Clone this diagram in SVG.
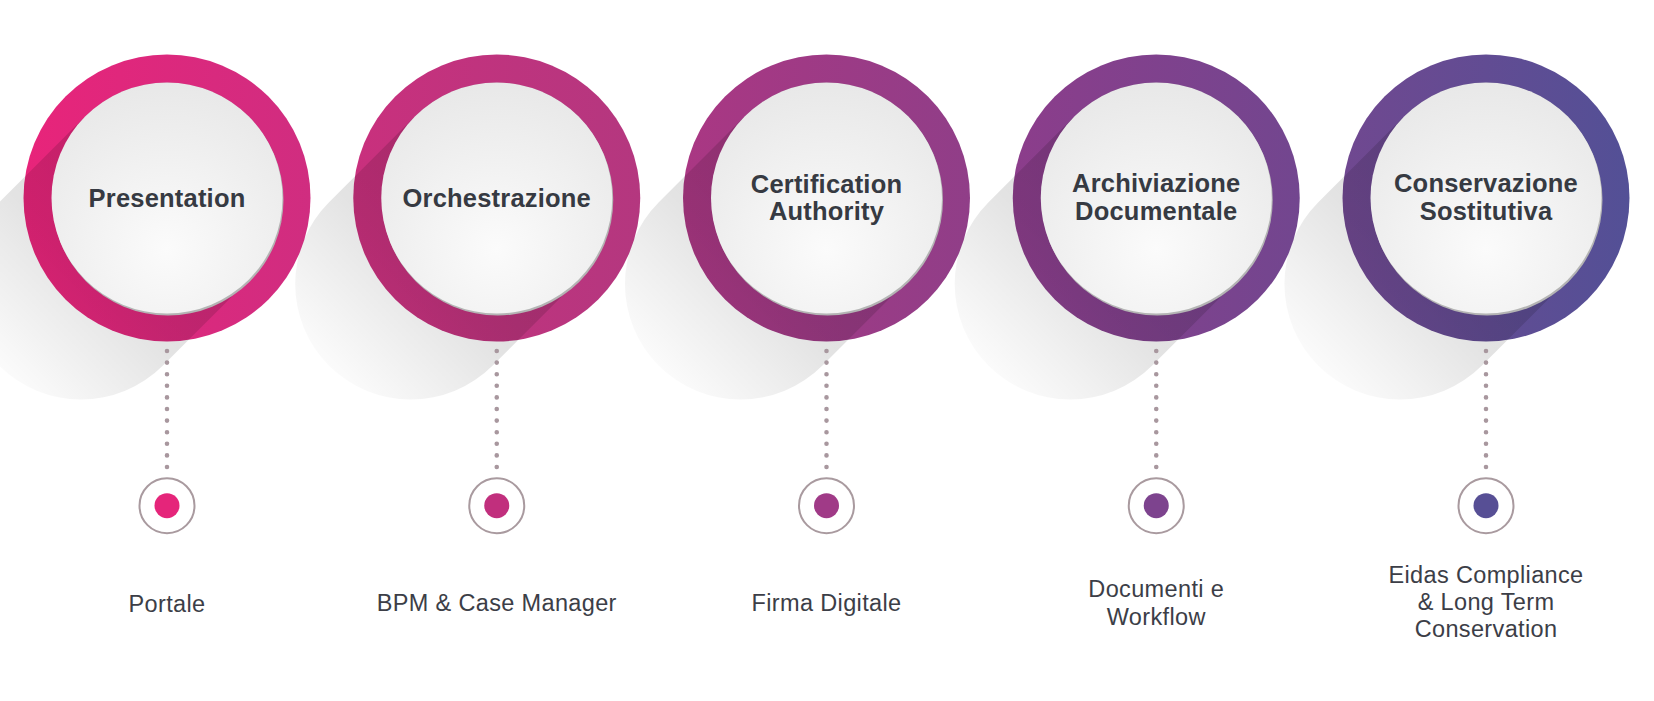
<svg xmlns="http://www.w3.org/2000/svg" width="1654" height="701" viewBox="0 0 1654 701">
<defs>
<style>
.title{font-family:"Liberation Sans",Arial,sans-serif;font-weight:bold;font-size:25.5px;fill:#363a42;text-anchor:middle;letter-spacing:0.2px}
.label{font-family:"Liberation Sans",Arial,sans-serif;font-size:23.5px;fill:#3c3e47;text-anchor:middle;letter-spacing:0.35px}
.shadow{fill:url(#shadowGrad)}
.inner{fill:url(#innerGrad)}
.innerEdge{fill:#b4b4b4}
.marker{fill:#ffffff;stroke:#a99a9f;stroke-width:2}
.dots{stroke:#a8979e;stroke-width:4.6;stroke-linecap:round;stroke-dasharray:0 11.6;fill:none}
</style>
<linearGradient id="shadowGrad" x1="1" y1="0" x2="0" y2="1">
<stop offset="0.36" stop-color="#000" stop-opacity="0.15"/>
<stop offset="0.6" stop-color="#000" stop-opacity="0.11"/>
<stop offset="0.9" stop-color="#000" stop-opacity="0.015"/>
</linearGradient>
<radialGradient id="innerGrad" cx="0.5" cy="0.72" r="0.8">
<stop offset="0" stop-color="#fbfbfb"/>
<stop offset="1" stop-color="#e6e6e6"/>
</radialGradient>
<linearGradient id="ring1" x1="0" y1="0" x2="1" y2="0"><stop offset="0" stop-color="#e8247a"/><stop offset="1" stop-color="#d02d80"/></linearGradient>
<linearGradient id="ring2" x1="0" y1="0" x2="1" y2="0"><stop offset="0" stop-color="#c9307d"/><stop offset="1" stop-color="#b4377f"/></linearGradient>
<linearGradient id="ring3" x1="0" y1="0" x2="1" y2="0"><stop offset="0" stop-color="#aa3783"/><stop offset="1" stop-color="#903e88"/></linearGradient>
<linearGradient id="ring4" x1="0" y1="0" x2="1" y2="0"><stop offset="0" stop-color="#8c3d8b"/><stop offset="1" stop-color="#72468f"/></linearGradient>
<linearGradient id="ring5" x1="0" y1="0" x2="1" y2="0"><stop offset="0" stop-color="#704890"/><stop offset="1" stop-color="#535096"/></linearGradient>
<path id="sh" d="M81.7,279.7 L-4.3,365.7 A115.5,115.5 0 0 1 -167.7,202.3 L-81.7,116.3 A115.5,115.5 0 0 1 81.7,279.7 Z"/>
</defs>
<rect width="1654" height="701" fill="#ffffff"/>

<g id="node1" transform="translate(167,0)">
<circle cx="0" cy="198" r="143.5" fill="url(#ring1)"/>
<use href="#sh" class="shadow"/>
<circle cx="1" cy="200" r="115.5" class="innerEdge"/>
<circle cx="0" cy="198" r="115.5" class="inner"/>
<text class="title" x="0" y="207">Presentation</text>
</g>
<g id="node2" transform="translate(496.75,0)">
<circle cx="0" cy="198" r="143.5" fill="url(#ring2)"/>
<use href="#sh" class="shadow"/>
<circle cx="1" cy="200" r="115.5" class="innerEdge"/>
<circle cx="0" cy="198" r="115.5" class="inner"/>
<text class="title" x="0" y="207">Orchestrazione</text>
</g>
<g id="node3" transform="translate(826.5,0)">
<circle cx="0" cy="198" r="143.5" fill="url(#ring3)"/>
<use href="#sh" class="shadow"/>
<circle cx="1" cy="200" r="115.5" class="innerEdge"/>
<circle cx="0" cy="198" r="115.5" class="inner"/>
<text class="title" x="0" y="192.5">Certification</text>
<text class="title" x="0" y="220">Authority</text>
</g>
<g id="node4" transform="translate(1156.25,0)">
<circle cx="0" cy="198" r="143.5" fill="url(#ring4)"/>
<use href="#sh" class="shadow"/>
<circle cx="1" cy="200" r="115.5" class="innerEdge"/>
<circle cx="0" cy="198" r="115.5" class="inner"/>
<text class="title" x="0" y="192">Archiviazione</text>
<text class="title" x="0" y="220">Documentale</text>
</g>
<g id="node5" transform="translate(1486,0)">
<circle cx="0" cy="198" r="143.5" fill="url(#ring5)"/>
<use href="#sh" class="shadow"/>
<circle cx="1" cy="200" r="115.5" class="innerEdge"/>
<circle cx="0" cy="198" r="115.5" class="inner"/>
<text class="title" x="0" y="192">Conservazione</text>
<text class="title" x="0" y="220">Sostitutiva</text>
</g>

<g id="connectors">
<line class="dots" x1="167" y1="351" x2="167" y2="468"/>
<line class="dots" x1="496.75" y1="351" x2="496.75" y2="468"/>
<line class="dots" x1="826.5" y1="351" x2="826.5" y2="468"/>
<line class="dots" x1="1156.25" y1="351" x2="1156.25" y2="468"/>
<line class="dots" x1="1486" y1="351" x2="1486" y2="468"/>
</g>

<g id="item1" transform="translate(167,0)">
<circle class="marker" cx="0" cy="505.7" r="27.5"/>
<circle cx="0" cy="505.7" r="12.5" fill="#e5257a"/>
<text class="label" x="0" y="612">Portale</text>
</g>
<g id="item2" transform="translate(496.75,0)">
<circle class="marker" cx="0" cy="505.7" r="27.5"/>
<circle cx="0" cy="505.7" r="12.5" fill="#c12f7d"/>
<text class="label" x="0" y="611">BPM &amp; Case Manager</text>
</g>
<g id="item3" transform="translate(826.5,0)">
<circle class="marker" cx="0" cy="505.7" r="27.5"/>
<circle cx="0" cy="505.7" r="12.5" fill="#a03a87"/>
<text class="label" x="0" y="611">Firma Digitale</text>
</g>
<g id="item4" transform="translate(1156.25,0)">
<circle class="marker" cx="0" cy="505.7" r="27.5"/>
<circle cx="0" cy="505.7" r="12.5" fill="#7d438e"/>
<text class="label" x="0" y="597">Documenti e</text>
<text class="label" x="0" y="625">Workflow</text>
</g>
<g id="item5" transform="translate(1486,0)">
<circle class="marker" cx="0" cy="505.7" r="27.5"/>
<circle cx="0" cy="505.7" r="12.5" fill="#574f95"/>
<text class="label" x="0" y="583">Eidas Compliance</text>
<text class="label" x="0" y="610">&amp; Long Term</text>
<text class="label" x="0" y="637">Conservation</text>
</g>
</svg>
